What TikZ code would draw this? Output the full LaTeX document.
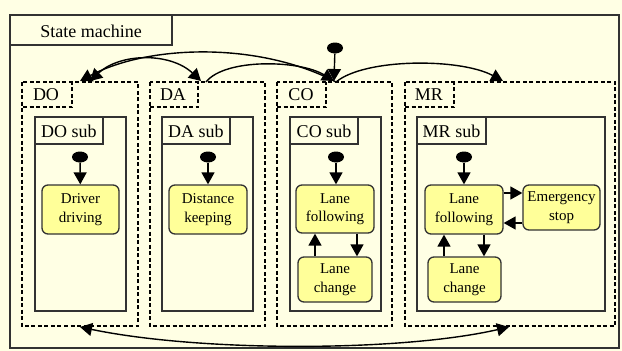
\documentclass[tikz,border=0pt]{standalone}
\usepackage{fontspec}
\setmainfont{Liberation Serif}
\usetikzlibrary{arrows.meta,shapes.geometric}
\definecolor{bgc}{RGB}{255,255,228}
\definecolor{statey}{RGB}{255,255,153}
\definecolor{framec}{RGB}{50,50,50}
\tikzset{
  outerbox/.style={draw=framec,line width=1.3pt},
  dashbox/.style={draw=black,line width=1.8pt,dash pattern=on 4pt off 2.5pt},
  subbox/.style={draw=framec,line width=1.3pt},
  lbl/.style={font=\fontsize{18}{20}\selectfont,inner sep=0pt},
  statebox/.style={draw=framec,fill=statey,rounded corners=6pt,line width=1.3pt,
     align=center,font=\fontsize{15}{18.5}\selectfont,inner sep=0pt},
  initdot/.style={ellipse,fill=black,minimum width=16pt,minimum height=11pt,inner sep=0pt},
  tr/.style={-{Triangle[length=12pt,width=13pt]},line width=1.4pt,black},
  tr2/.style={{Triangle[length=12pt,width=13pt]}-{Triangle[length=12pt,width=13pt]},line width=1.4pt,black},
}
\begin{document}
\begin{tikzpicture}[x=1pt,y=-1pt]
\useasboundingbox (0,0) rectangle (622,351);
\fill[bgc] (0,0) rectangle (622,351);
% outer
\draw[outerbox] (10,15) rectangle (619,348);
\draw[outerbox] (10,15) rectangle (172,45);
\node[lbl] (sm) at (91,31) {State machine};
% dashed frames
\draw[dashbox] (22,82) rectangle (138,326);
\draw[dashbox] (22,82) -- (22,107) -- (72,107) -- (72,82);
\node[lbl] (do) at (46,95) {DO};
\draw[dashbox] (150,82) rectangle (265,326);
\draw[dashbox] (150,107) -- (198,107) -- (198,82);
\node[lbl] (da) at (173,95) {DA};
\draw[dashbox] (277,82) rectangle (392,326);
\draw[dashbox] (277,107) -- (326,107) -- (326,82);
\node[lbl] (co) at (301,95) {CO};
\draw[dashbox] (405,82) rectangle (615,326);
\draw[dashbox] (405,107) -- (454,107) -- (454,82);
\node[lbl] (mr) at (429,95) {MR};
% sub boxes
\draw[subbox] (35,117) rectangle (126,311);
\draw[subbox] (35,117) rectangle (103,144);
\node[lbl] (dosub) at (69,131) {DO sub};
\draw[subbox] (162,117) rectangle (253,311);
\draw[subbox] (162,117) rectangle (230,144);
\node[lbl] (dasub) at (196,131) {DA sub};
\draw[subbox] (290,117) rectangle (381,311);
\draw[subbox] (290,117) rectangle (358,144);
\node[lbl] (cosub) at (324,131) {CO sub};
\draw[subbox] (417,117) rectangle (605,311);
\draw[subbox] (417,117) rectangle (486,144);
\node[lbl] (mrsub) at (451.5,131) {MR sub};
% states
\node[statebox,minimum width=77pt,minimum height=49pt] (dd) at (80.5,209.5) {Driver\\driving};
\node[statebox,minimum width=78pt,minimum height=49pt] (dk) at (208,209.5) {Distance\\keeping};
\node[statebox,minimum width=78pt,minimum height=48pt] (clf) at (335,209) {Lane\\following};
\node[statebox,minimum width=74pt,minimum height=45pt] (clc) at (335,279.5) {Lane\\change};
\node[statebox,minimum width=78pt,minimum height=49pt] (mlf) at (464,209.5) {Lane\\following};
\node[statebox,minimum width=77pt,minimum height=45pt] (mes) at (561.5,207.5) {Emergency\\stop};
\node[statebox,minimum width=73pt,minimum height=45pt] (mlc) at (464.5,279.5) {Lane\\change};
% initial dots
\node[initdot] (i1) at (80,157) {};
\node[initdot] (i2) at (208,157) {};
\node[initdot] (i3) at (336,157) {};
\node[initdot] (i4) at (464,157) {};
\node[initdot] (i0) at (335,48) {};
\draw[tr] (i1) -- (dd);
\draw[tr] (i2) -- (dk);
\draw[tr] (i3) -- (clf.north -| i3);
\draw[tr] (i4) -- (mlf);
% inner transitions
\draw[tr] (clc.north -| 315,0) -- (clf.south -| 315,0);
\draw[tr] (clf.south -| 357,0) -- (clc.north -| 357,0);
\draw[tr] (mlc.north -| 444,0) -- (mlf.south -| 444,0);
\draw[tr] (mlf.south -| 484,0) -- (mlc.north -| 484,0);
\draw[tr] (mlf.east |- 0,193) -- (mes.west |- 0,193);
\draw[tr] (mes.west |- 0,223) -- (mlf.east |- 0,223);
% top-level coordinates
\coordinate (coT) at (336,82);
\coordinate (coIn) at (334,81);
\coordinate (doA) at (80,81);
\coordinate (doB) at (90,81);
\coordinate (daIn) at (201,81);
\coordinate (daOut) at (206,82);
\coordinate (mrIn) at (503,81);
\coordinate (doBot) at (80,327);
\coordinate (mrBot) at (509,327);
\draw[tr] (i0) -- (coIn);
\draw[tr] (coT) .. controls (260,42) and (150,44) .. (doA);
\draw[tr2] (doB) .. controls (120,53) and (170,52) .. (daIn);
\draw[tr] (daOut) .. controls (225,58) and (300,60) .. (coIn);
\draw[tr] (coT) .. controls (365,58) and (460,58) .. (mrIn);
\draw[tr2] (doBot) .. controls (200,352) and (400,352) .. (mrBot);
\end{tikzpicture}
\end{document}
